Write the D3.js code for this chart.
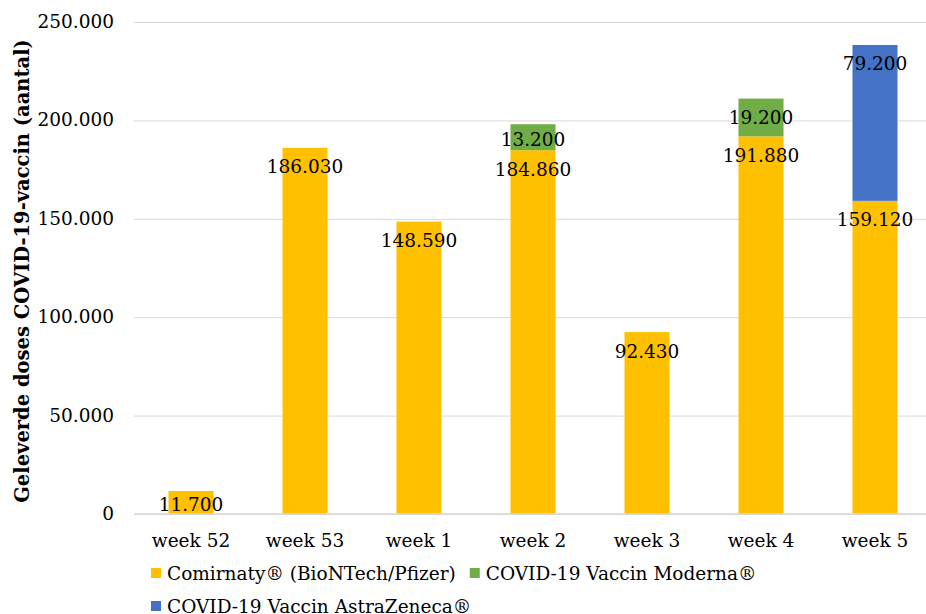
<!DOCTYPE html>
<html>
<head>
  <meta charset="utf-8">
  <title>Geleverde doses COVID-19-vaccin</title>
  <style>
    body {
      margin: 0;
      background-color: white;
      font-family: "DejaVu Serif", serif;
    }
    .tick text {
      font-family: "DejaVu Serif", serif;
      font-size: 18.5px;
      fill: #000;
    }
    .label {
      font-size: 18.5px;
      fill: #000;
      text-anchor: middle;
    }
    .axis-title {
      font-size: 19.5px;
      font-weight: bold;
      text-anchor: middle;
    }
    .legend text {
      font-size: 18.5px;
    }
  </style>
  <script src="https://d3js.org/d3.v7.min.js"></script>
</head>
<body>
  <div id="chart"></div>
  <script>
    // Data
    const weeks = ["week 52", "week 53", "week 1", "week 2", "week 3", "week 4", "week 5"];
    const pfizer = [11700, 186030, 148590, 184860, 92430, 191880, 159120];
    const moderna = [0, 0, 0, 13200, 0, 19200, 0];
    const astra = [0, 0, 0, 0, 0, 0, 79200];
    const seriesNames = ["Comirnaty® (BioNTech/Pfizer)", "COVID-19 Vaccin Moderna®", "COVID-19 Vaccin AstraZeneca®"];
    const colors = ["#FFC000", "#70AD47", "#4472C4"];
    const yTicks = [0, 50000, 100000, 150000, 200000, 250000];

    const totalWidth = 926, totalHeight = 614;
    const margin = {top: 22, left: 134};
    const width = 798, height = 492;

    const svg = d3.select("#chart")
      .append("svg")
        .attr("width", totalWidth)
        .attr("height", totalHeight);

    const g = svg.append("g")
        .attr("transform", `translate(${margin.left},${margin.top})`);

    const x = d3.scaleBand()
      .domain(weeks)
      .range([0, width])
      .paddingInner(0.605)
      .paddingOuter(0.3025);

    const y = d3.scaleLinear()
      .domain([0, 250000])
      .range([height, 0]);

    const fmt = v => d3.format(",")(v).replace(/,/g, ".");

    // gridlines + y labels
    const yAxis = g.append("g")
      .call(d3.axisLeft(y).tickValues(yTicks).tickSize(-width).tickPadding(20).tickFormat(fmt));
    yAxis.select(".domain").remove();
    yAxis.selectAll(".tick line").attr("stroke", "#D9D9D9").attr("stroke-width", 1);
    yAxis.selectAll(".tick text").attr("dy", "0.3em");

    // stacked data
    const table = weeks.map((w, i) => ({week: w, pfizer: pfizer[i], moderna: moderna[i], astra: astra[i]}));
    const stack = d3.stack().keys(["pfizer", "moderna", "astra"]);
    const stacked = stack(table);

    stacked.forEach((layer, li) => {
      g.selectAll(`.bar-${li}`)
        .data(layer.filter(d => d[1] - d[0] > 0))
        .enter().append("rect")
          .attr("x", d => x(d.data.week))
          .attr("width", x.bandwidth())
          .attr("y", d => y(d[1]))
          .attr("height", d => y(d[0]) - y(d[1]))
          .attr("fill", colors[li]);
    });

    // x axis line
    g.append("line")
      .attr("x1", 0).attr("x2", width)
      .attr("y1", y(0)).attr("y2", y(0))
      .attr("stroke", "#D9D9D9")
      .attr("stroke-width", 1.5);

    // x labels
    const xAxis = g.append("g")
      .attr("transform", `translate(0,${height})`)
      .call(d3.axisBottom(x).tickSize(0).tickPadding(20));
    xAxis.select(".domain").remove();

    // data labels (inside end)
    stacked.forEach((layer, li) => {
      g.selectAll(`.label-${li}`)
        .data(layer.filter(d => d[1] - d[0] > 0))
        .enter().append("text")
          .attr("class", "label")
          .attr("x", d => x(d.data.week) + x.bandwidth() / 2)
          .attr("y", d => {
            const top = y(d[1]), h = y(d[0]) - y(d[1]);
            return Math.min(top + 19, top + h / 2 + 2);
          })
          .attr("dy", "0.35em")
          .text(d => fmt(d[1] - d[0]));
    });

    // y axis title
    svg.append("text")
      .attr("class", "axis-title")
      .attr("transform", `translate(29,${margin.top + height / 2 + 3}) rotate(-90)`)
      .text("Geleverde doses COVID-19-vaccin (aantal)");

    // legend
    const legendRows = [[0, 1], [2]];
    legendRows.forEach((row, ri) => {
      let lx = 151;
      row.forEach(si => {
        const lg = svg.append("g")
          .attr("class", "legend")
          .attr("transform", `translate(${lx},${568 + ri * 33})`);
        lg.append("rect")
          .attr("width", 10)
          .attr("height", 10)
          .attr("fill", colors[si]);
        const t = lg.append("text")
          .attr("x", 16)
          .attr("y", 6)
          .attr("dy", "0.35em")
          .text(seriesNames[si]);
        lx += 16 + t.node().getComputedTextLength() + 14;
      });
    });
  </script>
</body>
</html>
